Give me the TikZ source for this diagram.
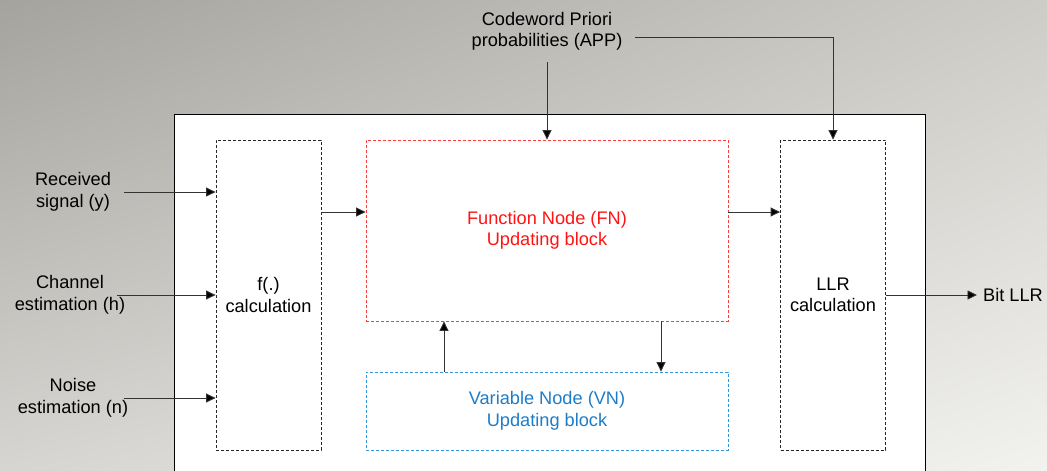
\documentclass[tikz,border=0pt]{standalone}
\usepackage{fontspec}
\setmainfont{Liberation Sans}
\usetikzlibrary{arrows.meta,shadings}
\definecolor{bgTL}{RGB}{164,163,158}
\definecolor{bgTR}{RGB}{206,204,199}
\definecolor{bgBL}{RGB}{214,213,209}
\definecolor{bgBR}{RGB}{242,242,239}
\definecolor{fnred}{RGB}{255,20,20}
\definecolor{fnborder}{RGB}{255,60,60}
\definecolor{vnblue}{RGB}{30,125,200}
\definecolor{vnborder}{RGB}{50,150,220}
\tikzset{
  txt/.style={align=center,font=\fontsize{18.2}{21.5}\selectfont,inner sep=0pt},
  blk/.style={draw=black!85,dash pattern=on 3pt off 2pt,line width=0.8pt,fill=white},
  arr/.style={draw=black!80,line width=0.9pt,-{Triangle[length=9.5pt,width=9pt,fill=black]}},
  ln/.style={draw=black!80,line width=0.9pt}
}
\begin{document}
\begin{tikzpicture}[x=1pt,y=-1pt]
\useasboundingbox (0,0) rectangle (1047,471);
\shade[upper left=bgTL,upper right=bgTR,lower left=bgBL,lower right=bgBR] (0,0) rectangle (1047,471);
% main frame
\fill[white] (174,114) rectangle (925,471);
\draw[line width=0.9pt] (174,471) -- (174,114) -- (925,114) -- (925,471);
% blocks
\node[blk,minimum width=105pt,minimum height=310pt,txt] (f) at (268.5,295) {f(.)\\calculation};
\node[blk,draw=fnborder,minimum width=362pt,minimum height=181pt,txt,text=fnred] (fn) at (547,230.5) {Function Node (FN)\\Updating block};
\node[blk,draw=vnborder,minimum width=362pt,minimum height=78pt,txt,text=vnblue] (vn) at (547,411) {Variable Node (VN)\\Updating block};
\node[blk,minimum width=105pt,minimum height=310pt,txt] (llr) at (833,295) {LLR\\calculation};
% inputs
\node[txt] (rec) at (73,192) {Received\\signal (y)};
\node[txt] (chan) at (70,295) {Channel\\estimation (h)};
\node[txt] (noise) at (73,398) {Noise\\estimation (n)};
\node[txt] (cw) at (547,31.5) {Codeword Priori\\probabilities (APP)};
\node[txt,anchor=west] (bit) at (983,295) {Bit LLR};
\coordinate (recS) at (124,192);
\coordinate (chanS) at (117,295);
\coordinate (noiseS) at (124,398);
\coordinate (cwR) at (635,37);
\coordinate (cwB) at (547,62);
\coordinate (bitE) at (977,295);
\draw[arr] (recS) -- (recS -| f.west);
\draw[arr] (chanS) -- (chanS -| f.west);
\draw[arr] (noiseS) -- (noiseS -| f.west);
\draw[arr] (f.east |- 0,212) -- (fn.west |- 0,212);
\draw[arr] (fn.east |- 0,212) -- (llr.west |- 0,212);
\draw[arr] (llr.east) -- (bitE);
\draw[arr] (cwB) -- (fn.north);
\draw[arr] (cwR) -| (llr.north);
\draw[arr] (vn.north -| 444,0) -- (fn.south -| 444,0);
\draw[arr] (fn.south -| 661,0) -- (vn.north -| 661,0);
\end{tikzpicture}
\end{document}
